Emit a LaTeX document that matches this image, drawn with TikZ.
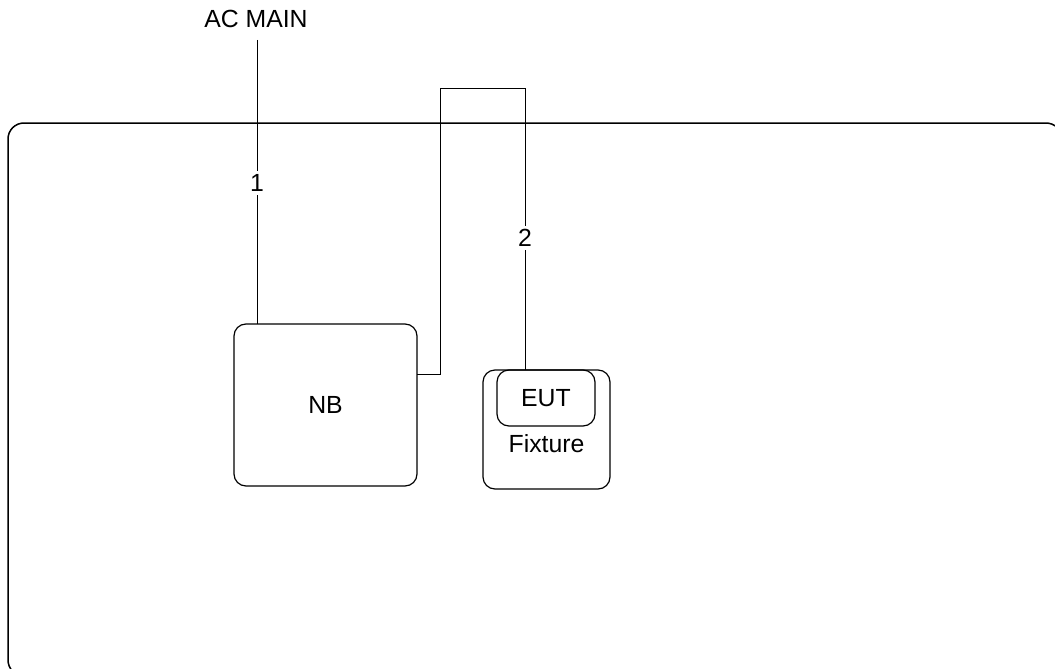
\documentclass[tikz,border=0pt]{standalone}
\usepackage{fontspec}
\setmainfont{Liberation Sans}
\begin{document}
\begin{tikzpicture}[x=1pt,y=-1pt,
  box/.style={draw,line width=1.2pt,rounded corners=12pt},
  wire/.style={draw,line width=0.9pt},
  lbl/.style={font=\fontsize{24.8}{29}\selectfont,inner sep=1pt},
  numlbl/.style={font=\fontsize{24.8}{29}\selectfont,fill=white,inner sep=3pt}]
\useasboundingbox (0,0) rectangle (1055,669);
\clip (0,0) rectangle (1055,669);
\draw[line width=1.5pt,rounded corners=16pt] (8,123) rectangle (1062,676);
\node[lbl] (ac) at (256,19) {AC MAIN};
\coordinate (actop) at (257,40);
\node[box,minimum width=183pt,minimum height=162pt] (nb) at (325.5,405) {};
\node[lbl] at (nb.center) {NB};
\node[box,minimum width=127pt,minimum height=119pt] (fix) at (546.5,429.5) {};
\node[box,minimum width=98pt,minimum height=56pt] (eut) at (546,398) {};
\node[lbl] at (eut.center) {EUT};
\node[lbl] (fixt) at (546.5,444) {Fixture};
\coordinate (nbtop) at (257,324);
\coordinate (nbr) at (417,374);
\coordinate (euttop) at (525,370);
\draw[wire] (actop) -- (nbtop);
\draw[wire] (nbr) -- (440,374) -- (440,88) -- (525,88) -- (euttop);
\node[numlbl] (n1) at (257,183) {1};
\node[numlbl] (n2) at (525,238) {2};
\end{tikzpicture}
\end{document}
